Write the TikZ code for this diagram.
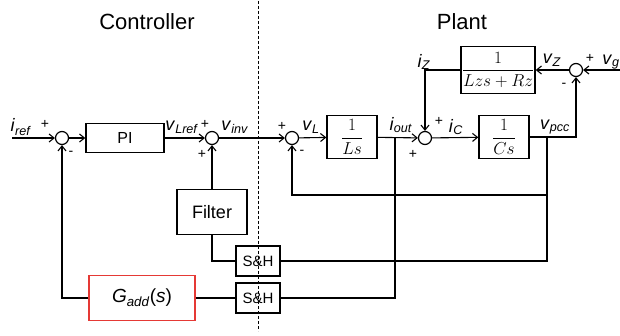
\documentclass[tikz,border=0pt]{standalone}
\usepackage{amsmath}
\usepackage{fontspec}
\setmainfont{Liberation Sans}
\usetikzlibrary{arrows.meta,positioning}
\definecolor{gred}{HTML}{E53935}
\newcommand{\sg}[2]{\textit{#1}\textsubscript{\textit{#2}}}
\tikzset{
blk/.style={draw,line width=1.3pt,inner sep=0pt,align=center},
sumc/.style={circle,draw,line width=1.2pt,minimum size=13pt,inner sep=0pt},
arr/.style={-{Straight Barb[length=5pt,width=8pt]},line width=1.1pt},
wire/.style={line width=1.1pt},
lbl/.style={font=\fontsize{18}{19}\selectfont,inner sep=0pt},
sgn/.style={font=\fontsize{14}{15}\selectfont,inner sep=0pt},
ttl/.style={font=\fontsize{22}{24}\selectfont,inner sep=0pt},
frac/.style={font=\fontsize{17}{18}\selectfont}
}

\begin{document}
\begin{tikzpicture}[x=1pt,y=-1pt]
\useasboundingbox (0,0) rectangle (620,336);
% titles and the dividing line
\node[ttl] (ctrl) at (147,22) {Controller};
\node[ttl] (plant) at (462,22) {Plant};
\coordinate (dtop) at (258,1);
\coordinate (dbot) at (258,331);
\draw[dashed,line width=0.8pt,dash pattern=on 3pt off 2pt] (dtop) -- (dbot);
% summing points
\node[sumc] (s1) at (62,138) {};
\node[sumc] (s2) at (212,138) {};
\node[sumc] (s3) at (292,138) {};
\node[sumc] (s4) at (425,138) {};
\node[sumc] (s5) at (576,70) {};
% blocks
\node[blk,minimum width=78pt,minimum height=29pt,font=\fontsize{16}{17}\selectfont] (pi) at (125,138) {PI};
\node[blk,frac,minimum width=50pt,minimum height=43pt] (ls) at (352,137) {$\dfrac{1}{Ls}$};
\node[blk,frac,minimum width=50pt,minimum height=43pt] (cs) at (504,137) {$\dfrac{1}{Cs}$};
\node[blk,frac,minimum width=74pt,minimum height=47pt] (zl) at (498,70) {$\dfrac{1}{Lzs+Rz}$};
\node[blk,minimum width=70pt,minimum height=45pt,font=\fontsize{18}{19}\selectfont] (filt) at (212,212) {Filter};
\node[blk,minimum width=44pt,minimum height=30pt,font=\fontsize{15}{16}\selectfont] (sh1) at (258,261) {S\&H};
\node[blk,minimum width=44pt,minimum height=30pt,font=\fontsize{15}{16}\selectfont] (sh2) at (258,298) {S\&H};
\node[blk,draw=gred,minimum width=106pt,minimum height=45pt,font=\fontsize{19}{20}\selectfont] (gadd) at (142,298) {\sg{G}{add}(\textit{s})};
% free ends and branch points
\coordinate (iin) at (12,138);
\coordinate (vgin) at (620,70);
\coordinate (iout) at (395,138);
\coordinate (pcc) at (547,138);
\coordinate (fb) at (547,195);
% forward path
\draw[arr] (iin) -- (s1);
\draw[arr] (s1) -- (pi);
\draw[arr] (pi) -- (s2);
\draw[arr] (s2) -- (s3);
\draw[arr] (s3) -- (ls);
\draw[arr] (ls) -- (s4);
\draw[arr] (s4) -- (cs);
\draw[arr] (cs) -| (s5);
\draw[arr] (vgin) -- (s5);
\draw[arr] (s5) -- (zl);
\draw[arr] (zl) -| (s4);
% feedback paths
\draw[arr] (pcc) -- (fb) -| (s3);
\draw[wire] (fb) |- (sh1);
\draw[wire] (sh1) -| (filt);
\draw[arr] (filt) -- (s2);
\draw[wire] (iout) |- (sh2);
\draw[wire] (sh2) -- (gadd);
\draw[arr] (gadd) -| (s1);
% signal labels
\node[lbl] (lref) at (21,127) {\sg{i}{ref}};
\node[lbl] (lvlr) at (182,127) {\sg{v}{Lref}};
\node[lbl] (linv) at (235,127) {\sg{v}{inv}};
\node[lbl] (lvl) at (311,127) {\sg{v}{L}};
\node[lbl] (liout) at (401,125) {\sg{i}{out}};
\node[lbl] (lic) at (456,127) {\sg{i}{C}};
\node[lbl] (lpcc) at (555,127) {\sg{v}{pcc}};
\node[lbl] (liz) at (424,62) {\sg{i}{Z}};
\node[lbl] (lvz) at (552,60) {\sg{v}{Z}};
\node[lbl] (lvg) at (611,62) {\sg{v}{g}};
% signs
\node[sgn] (p1) at (45,124) {+};
\node[sgn] (m1) at (71,153) {-};
\node[sgn] (p2) at (205,124) {+};
\node[sgn] (p3) at (202,154) {+};
\node[sgn] (p4) at (282,126) {+};
\node[sgn] (m4) at (302,152) {-};
\node[sgn] (p5) at (439,121) {+};
\node[sgn] (p6) at (413,154) {+};
\node[sgn] (p7) at (590,58) {+};
\node[sgn] (m7) at (564,85) {-};
\end{tikzpicture}
\end{document}
